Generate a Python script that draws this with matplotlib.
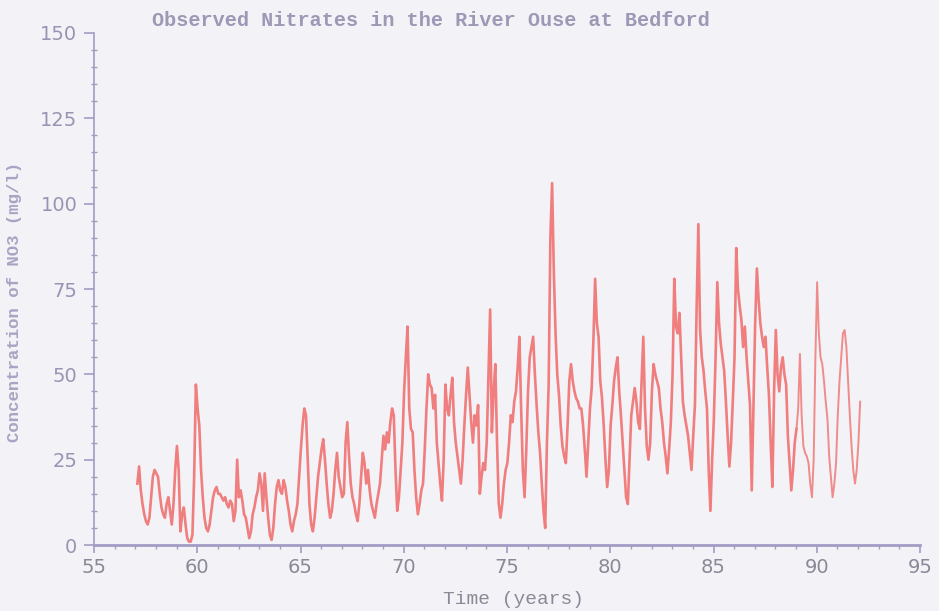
import numpy as np
import matplotlib
matplotlib.use('Agg')
import matplotlib.pyplot as plt
from matplotlib.ticker import MultipleLocator

# monthly nitrate readings, first one at 1957.1
start_year = 57.1
no3 = [
    18, 23, 16, 12, 9, 7, 6, 8, 14, 20, 22, 21,      # 57
    20, 15, 11, 9, 8, 12, 14, 10, 6, 12, 22, 29,     # 58
    22, 4, 9, 11, 6, 2, 1, 1, 3, 20, 47, 40,         # 59
    35, 22, 14, 8, 5, 4, 6, 10, 14, 16, 17, 15,      # 60
    15, 14, 13, 14, 12, 11, 13, 12, 7, 10, 25, 14,   # 61
    16, 13, 9, 8, 5, 2, 4, 9, 11, 14, 16, 21,        # 62
    18, 10, 21, 14, 8, 3, 1.5, 5, 12, 17, 19, 16,    # 63
    15, 19, 17, 13, 10, 6, 4, 7, 9, 12, 20, 28,      # 64
    35, 40, 38, 25, 12, 6, 4, 8, 14, 20, 24, 28,     # 65
    31, 25, 18, 12, 8, 10, 15, 22, 27, 20, 17, 14,   # 66
    15, 30, 36, 26, 18, 14, 12, 9, 7, 12, 20, 27,    # 67
    24, 18, 22, 16, 12, 10, 8, 12, 15, 18, 25, 32,   # 68
    28, 33, 30, 36, 40, 38, 22, 10, 14, 22, 30, 45,  # 69
    55, 64, 40, 34, 33, 22, 14, 9, 12, 16, 18, 28,   # 70
    40, 50, 47, 46, 40, 44, 30, 24, 18, 13, 25, 47,  # 71
    40, 38, 44, 49, 36, 30, 26, 22, 18, 25, 35, 44,  # 72
    52, 44, 36, 30, 38, 35, 41, 15, 20, 24, 22, 30,  # 73
    50, 69, 33, 45, 53, 30, 12, 8, 12, 18, 22, 24,   # 74
    30, 38, 36, 42, 45, 52, 61, 40, 22, 14, 28, 45,  # 75
    55, 58, 61, 50, 41, 33, 27, 18, 10, 5, 30, 47,   # 76
    90, 106, 80, 62, 50, 44, 35, 29, 26, 24, 35, 48, # 77
    53, 48, 45, 43, 42, 40, 40, 35, 28, 20, 30, 40,  # 78
    46, 60, 78, 65, 61, 48, 43, 35, 25, 17, 22, 35,  # 79
    41, 48, 52, 55, 45, 38, 30, 22, 14, 12, 25, 38,  # 80
    42, 46, 42, 36, 34, 48, 61, 40, 29, 25, 30, 45,  # 81
    53, 50, 48, 46, 40, 36, 30, 26, 21, 28, 36, 50,  # 82
    78, 64, 62, 68, 55, 42, 38, 35, 32, 27, 22, 32,  # 83
    41, 70, 94, 63, 55, 51, 45, 40, 22, 10, 25, 37,  # 84
    55, 77, 65, 59, 55, 51, 42, 32, 23, 30, 42, 55,  # 85
    87, 75, 70, 66, 58, 64, 55, 48, 41, 16, 40, 65,  # 86
    81, 72, 65, 61, 58, 61, 52, 44, 30, 17, 45, 63,  # 87
    50, 45, 52, 55, 50, 47, 32, 24, 16, 22, 30, 34,  # 88
    40, 56, 38, 29, 27, 26, 24, 18, 14, 25, 55, 77,  # 89
    62, 55, 53, 48, 42, 37, 26, 20, 14, 18, 24, 38,  # 90
    48, 55, 62, 63, 58, 48, 38, 29, 22, 18, 22, 30,  # 91
    42,                                              # 92
]

time = start_year + np.arange(len(no3)) / 12.0
no3 = np.array(no3, dtype=float)

BG = '#f3f2f6'
AXIS = '#a29cc4'
LABEL = '#aaa3c4'

fig = plt.figure(figsize=(9.39, 6.11), dpi=100, facecolor=BG)
ax = fig.add_axes([0.1001, 0.108, 0.8797, 0.838])
ax.set_facecolor(BG)

# the record up to 1989 is drawn heavier, the last years thinner (as in the scan)
cut = int(np.searchsorted(time, 89.0))
ax.plot(time[:cut + 1], no3[:cut + 1], color='#f07272', linewidth=1.9,
        alpha=0.9)
ax.plot(time[cut:], no3[cut:], color='#f08080', linewidth=1.4, alpha=0.9)

ax.set_xlim(55, 95)
ax.set_ylim(0, 150)
ax.xaxis.set_major_locator(MultipleLocator(5))
ax.xaxis.set_minor_locator(MultipleLocator(1))
ax.yaxis.set_major_locator(MultipleLocator(25))
ax.yaxis.set_minor_locator(MultipleLocator(5))

for s in ['top', 'right']:
    ax.spines[s].set_visible(False)
ax.spines['left'].set_color(AXIS)
ax.spines['bottom'].set_color(AXIS)
ax.spines['left'].set_linewidth(1.2)
ax.spines['bottom'].set_linewidth(2.0)

ax.tick_params(axis='y', which='major', direction='out', length=7, width=1.2,
               color=AXIS, labelcolor='#9a94b4', labelsize=14, pad=5)
ax.tick_params(axis='y', which='minor', direction='inout', length=4, width=1,
               color=AXIS)
ax.tick_params(axis='x', which='major', direction='out', length=6, width=1.2,
               color=AXIS, labelcolor='#8c8898', labelsize=14, pad=3)
ax.tick_params(axis='x', which='minor', direction='out', length=3, width=1,
               color=AXIS)

fig.text(0.459, 0.967, 'Observed Nitrates in the River Ouse at Bedford',
         ha='center', va='center', fontsize=14.5, fontweight='bold',
         family='Liberation Mono', color='#9d98b6')
ax.set_ylabel('Concentration of NO3 (mg/l)', fontsize=12.5, fontweight='bold',
              family='Liberation Mono', color=LABEL)
ax.yaxis.set_label_coords(-0.087, 0.475)
ax.set_xlabel('Time (years)', fontsize=14, family='Liberation Mono',
              color='#8c8898')
ax.xaxis.set_label_coords(0.508, -0.09)

fig.savefig('out.png', dpi=100, facecolor=BG)
